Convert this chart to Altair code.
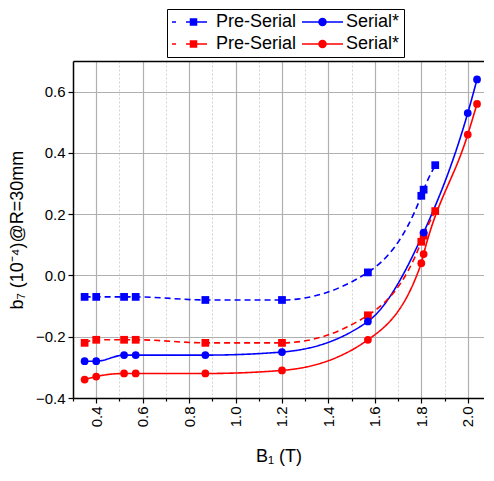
import altair as alt
import pandas as pd

# ---- data ----
x_pre_blue = [0.35, 0.40, 0.52, 0.57, 0.87, 1.20, 1.57, 1.80, 1.81, 1.86]
y_pre_blue = [-0.07, -0.07, -0.07, -0.07, -0.08, -0.08, 0.01, 0.26, 0.28, 0.36]
x_ser_blue = [0.35, 0.40, 0.52, 0.57, 0.87, 1.20, 1.57, 1.81, 2.00, 2.04]
y_ser_blue = [-0.28, -0.28, -0.26, -0.26, -0.26, -0.25, -0.15, 0.14, 0.53, 0.64]
x_pre_red = [0.35, 0.40, 0.52, 0.57, 0.87, 1.20, 1.57, 1.80, 1.81, 1.86]
y_pre_red = [-0.22, -0.21, -0.21, -0.21, -0.22, -0.22, -0.13, 0.11, 0.13, 0.21]
x_ser_red = [0.35, 0.40, 0.52, 0.57, 0.87, 1.20, 1.57, 1.80, 1.81, 2.00, 2.04]
y_ser_red = [-0.34, -0.33, -0.32, -0.32, -0.32, -0.31, -0.21, 0.04, 0.07, 0.46, 0.56]

series_names = ["Pre-Serial|blue", "Serial*|blue", "Pre-Serial|red", "Serial*|red"]
legend_keys = ["Pre-Serial|b", "Serial*|b", "Pre-Serial|r", "Serial*|r"]
series_colors = ["#0000ff", "#0000ff", "#ff0000", "#ff0000"]

x_ticks = [0.3, 0.4, 0.5, 0.6, 0.7, 0.8, 0.9, 1.0, 1.1, 1.2, 1.3, 1.4, 1.5,
           1.6, 1.7, 1.8, 1.9, 2.0]
y_ticks = [-0.4, -0.35, -0.3, -0.25, -0.2, -0.15, -0.1, -0.05, 0.0, 0.05, 0.1,
           0.15, 0.2, 0.25, 0.3, 0.35, 0.4, 0.45, 0.5, 0.55, 0.6, 0.65, 0.7]

rows = []
for name, key, xs, ys in [
    (series_names[0], legend_keys[0], x_pre_blue, y_pre_blue),
    (series_names[1], legend_keys[1], x_ser_blue, y_ser_blue),
    (series_names[2], legend_keys[2], x_pre_red, y_pre_red),
    (series_names[3], legend_keys[3], x_ser_red, y_ser_red),
]:
    for xv, yv in zip(xs, ys):
        rows.append({"series": name, "key": key, "B": xv, "b7": yv})
df = pd.DataFrame(rows)

FONT = "Liberation Sans"

# legend glyphs (line + marker) as filled custom symbol paths, all clockwise
pre_path = ("M-1,-0.16H-0.2V0.16H-1Z"
            "M1.8,-0.16H6V0.16H1.8Z"
            "M2.55,-0.75H4.05V0.75H2.55Z")
ser_path = ("M-1,-0.16H7.2V0.16H-1Z"
            "M2.25,0A0.85,0.85,0,1,1,3.95,0A0.85,0.85,0,1,1,2.25,0Z")

key_color_expr = ("indexof((datum.key || datum.value) + '', '|b') >= 0 "
                  "? '#0000ff' : '#ff0000'")

x_major = "abs(datum.value*5 - round(datum.value*5)) < 0.001"
y_major = "abs(datum.value*10 - round(datum.value*10)) < 0.001"


def axis_common(test, title, **kw):
    return alt.Axis(
        title=title,
        format=".1f",
        labelExpr=f"({test}) ? datum.label : ''",
        labelOverlap=False,
        labelFont=FONT, labelFontSize=15, labelColor="black",
        titleFont=FONT, titleFontSize=18, titleFontWeight="normal", titleColor="black",
        domainColor="black", domainWidth=1.5,
        tickColor="black", tickWidth=1.2,
        tickSize={"condition": {"test": test, "value": 5}, "value": 3},
        grid=True,
        gridColor={"condition": {"test": test, "value": "#b0b0b0"}, "value": "#c8c8c8"},
        gridWidth={"condition": {"test": test, "value": 1.2}, "value": 0.8},
        gridDash={"condition": {"test": test, "value": []}, "value": [2, 2]},
        **kw,
    )


x_axis = axis_common(x_major, "B₁ (T)", values=x_ticks, labelAngle=-90,
                     labelPadding=3, titlePadding=21)
y_axis = axis_common(y_major, "b₇ (10⁻⁴)@R=30mm", values=y_ticks,
                     labelPadding=3, titlePadding=9)

x_scale = alt.Scale(domain=[0.3, 2.07], nice=False, zero=False)
y_scale = alt.Scale(domain=[-0.4, 0.7], nice=False, zero=False)
color_scale = alt.Scale(domain=series_names, range=series_colors)

base = alt.Chart(df)

lines = base.mark_line(interpolate="monotone", strokeWidth=1.6).encode(
    x=alt.X("B:Q", scale=x_scale, axis=x_axis),
    y=alt.Y("b7:Q", scale=y_scale, axis=y_axis),
    color=alt.Color("series:N", scale=color_scale, legend=None),
    strokeDash=alt.StrokeDash(
        "series:N",
        scale=alt.Scale(domain=series_names, range=[[6, 4], [1, 0], [6, 4], [1, 0]]),
        legend=None,
    ),
)

squares = base.transform_filter("indexof(datum.series, 'Pre') == 0").mark_square(
    size=60, opacity=1).encode(
    x=alt.X("B:Q", scale=x_scale, axis=None),
    y=alt.Y("b7:Q", scale=y_scale),
    color=alt.Color("series:N", scale=color_scale, legend=None),
)

circles = base.transform_filter("indexof(datum.series, 'Serial') == 0").mark_circle(
    size=60, opacity=1).encode(
    x=alt.X("B:Q", scale=x_scale, axis=None),
    y=alt.Y("b7:Q", scale=y_scale),
    color=alt.Color("series:N", scale=color_scale, legend=None),
)

leg = alt.Legend(
    title=None, orient="none", legendX=94, legendY=-52, offset=0, columns=2,
    direction="horizontal",
    columnPadding=4, rowPadding=4, padding=4,
    strokeColor="black", fillColor="white",
    labelFont=FONT, labelFontSize=18, labelColor="black",
    labelExpr="split(datum.label, '|')[0]",
    labelOffset=30, symbolOffset=-3, symbolSize=100, symbolStrokeWidth=0,
    symbolOpacity=1,
    symbolFillColor={"expr": key_color_expr},
    symbolStrokeColor={"expr": key_color_expr},
)

# legend-only layer: no marks drawn (all rows filtered out), carries the legend and top frame line
legend_layer = base.transform_filter("false").mark_point(
    filled=True, size=100,
    fill={"expr": key_color_expr}, stroke={"expr": key_color_expr},
).encode(
    x=alt.X("B:Q", scale=x_scale,
            axis=alt.Axis(orient="top", labels=False, ticks=False, grid=False,
                          title=None, domainColor="black", domainWidth=1.5)),
    y=alt.Y("b7:Q", scale=y_scale),
    shape=alt.Shape("key:N",
                    scale=alt.Scale(domain=legend_keys,
                                    range=[pre_path, ser_path, pre_path, ser_path]),
                    legend=leg),
)

chart = (
    alt.layer(lines, squares, circles, legend_layer)
    .resolve_axis(x="independent")
    .properties(width=411, height=337,
                padding={"left": 0, "top": 0, "right": 0, "bottom": 0})
    .configure_view(stroke=None)
    .configure(background="white")
)

chart.save("out.html", embed_options={"renderer": "svg", "actions": False})
